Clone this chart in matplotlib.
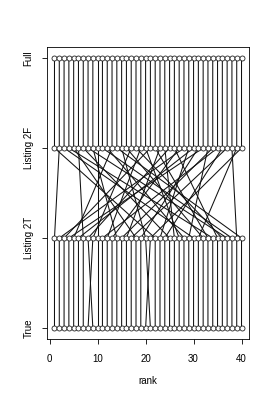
import matplotlib
matplotlib.use("Agg")
import matplotlib.pyplot as plt

# Level labels (bottom to top) and their y positions
levels = ["True", "Listing 2T", "Listing 2F", "Full"]

# Rank of each item under each ordering (items indexed by Full rank)
full_rank = [1, 2, 3, 4, 5, 6, 7, 8, 9, 10, 11, 12, 13, 14, 15, 16, 17, 18, 19, 20,
             21, 22, 23, 24, 25, 26, 27, 28, 29, 30, 31, 32, 33, 34, 35, 36, 37, 38, 39, 40]
listing2f_rank = [1, 2, 3, 4, 5, 6, 7, 8, 9, 10, 11, 12, 13, 14, 15, 16, 17, 18, 19, 20,
                  21, 22, 23, 24, 25, 26, 27, 28, 29, 30, 31, 32, 33, 34, 35, 36, 37, 38, 39, 40]
listing2t_rank = [22, 1, 30, 34, 18, 7, 25, 37, 14, 10, 38, 28, 5, 40, 20, 32, 9, 36, 12, 27,
                  3, 33, 16, 26, 8, 35, 13, 2, 23, 6, 19, 4, 29, 15, 11, 24, 17, 39, 31, 21]
true_rank = [22, 1, 30, 34, 18, 7, 25, 37, 14, 10, 38, 28, 5, 40, 21, 32, 8, 36, 12, 27,
             3, 33, 16, 26, 9, 35, 13, 2, 23, 6, 19, 4, 29, 15, 11, 24, 17, 39, 31, 20]

x_ticks = [0, 10, 20, 30, 40]

plt.rcParams['font.family'] = ['Liberation Sans', 'DejaVu Sans']

fig = plt.figure(figsize=(2.73, 4.0), dpi=100)
ax = fig.add_axes([47/273, 61/400, 202/273, 292/400])

series = [true_rank, listing2t_rank, listing2f_rank, full_rank]
n = len(full_rank)
for i in range(n):
    xs = [s[i] for s in series]
    ys = [1, 2, 3, 4]
    ax.plot(xs, ys, color="#111111", lw=0.75, zorder=1)

for lvl, s in enumerate(series, start=1):
    ax.scatter(sorted(s), [lvl] * n, s=13, facecolors="white",
               edgecolors="#222222", linewidths=0.6, zorder=2)

ax.set_xlim(-0.56, 41.56)
ax.set_ylim(0.88, 4.12)
ax.set_xticks(x_ticks)
ax.set_yticks([1, 2, 3, 4])
ax.set_yticklabels(levels, rotation=90, va="center")
ax.tick_params(axis="both", direction="out", length=3.6, width=0.6,
               labelsize=7, colors="black")
ax.tick_params(axis="x", pad=7)
ax.tick_params(axis="y", pad=6)
for sp in ax.spines.values():
    sp.set_linewidth(0.6)
ax.set_xlabel("rank", fontsize=7, labelpad=9)

fig.savefig("out.png", dpi=100)
